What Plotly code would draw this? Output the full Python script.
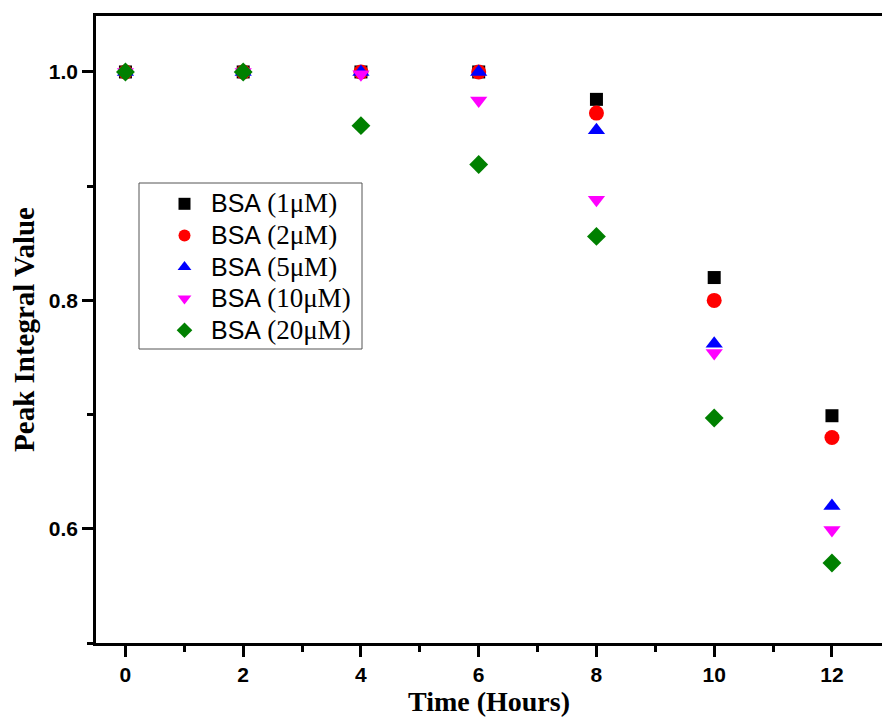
import plotly.graph_objects as go

time_hours = [0, 2, 4, 6, 8, 10, 12]
series_names = ["1", "2", "5", "10", "20"]
bsa_1 = [1.0, 1.0, 1.0, 1.0, 0.976, 0.820, 0.699]
bsa_2 = [1.0, 1.0, 1.0, 1.0, 0.964, 0.800, 0.680]
bsa_5 = [1.0, 1.0, 1.0, 1.0, 0.949, 0.762, 0.620]
bsa_10 = [1.0, 1.0, 0.998, 0.975, 0.888, 0.754, 0.599]
bsa_20 = [1.0, 1.0, 0.953, 0.919, 0.856, 0.697, 0.570]

x_ticks = [0, 2, 4, 6, 8, 10, 12]
y_ticks = [0.6, 0.8, 1.0]
y_tick_labels = ["0.6", "0.8", "1.0"]

values = [bsa_1, bsa_2, bsa_5, bsa_10, bsa_20]
colors = ["#000000", "#ff0000", "#0000ff", "#ff00ff", "#008000"]
symbols = ["square", "circle", "triangle-up", "triangle-down", "diamond"]
sizes = [13, 15, 15, 15, 14.5]

fig = go.Figure()
for name, vals, c, s, sz in zip(series_names, values, colors, symbols, sizes):
    label = ("<span style='font-size:25px'>BSA</span> "
             "<span style='font-family:Liberation Serif, Times New Roman;font-size:27px'>("
             + name + "\u03bcM)</span>")
    fig.add_trace(go.Scatter(
        x=time_hours, y=vals, mode="markers", name=label,
        marker=dict(color=c, symbol=s, size=sz, line=dict(width=0)),
    ))

L, T, B, W, H = 96, 16, 77, 882, 720
pw, ph = W - L, H - T - B

def px_x(p):
    return (p - L) / pw

def px_y(p):
    return (H - B - p) / ph

# legend frame
fig.add_shape(type="rect", xref="paper", yref="paper",
              x0=px_x(139), x1=px_x(362), y0=px_y(349), y1=px_y(183),
              line=dict(color="#555555", width=1), fillcolor="white", layer="below")

tickfont = dict(family="Liberation Sans, Arial", size=21, color="black", weight="bold")

fig.update_layout(
    width=W, height=H,
    margin=dict(l=L, r=0, t=T, b=B),
    plot_bgcolor="rgba(0,0,0,0)", paper_bgcolor="white",
    showlegend=True,
    legend=dict(
        x=px_x(158), y=px_y(183), xanchor="left", yanchor="top",
        bgcolor="rgba(0,0,0,0)", borderwidth=0,
        font=dict(family="Liberation Sans, Arial", size=22, color="black"),
        itemsizing="constant", tracegroupgap=0, itemwidth=43,
    ),
    xaxis=dict(
        range=[-0.5, 12.85],
        tickvals=x_ticks,
        ticktext=[str(v) for v in x_ticks],
        ticks="outside", ticklen=11, tickwidth=2.5, tickcolor="black",
        minor=dict(tickvals=[1, 3, 5, 7, 9, 11], ticks="outside", ticklen=6, tickwidth=2.5, tickcolor="black"),
        showline=True, linewidth=2.5, linecolor="black", mirror=True,
        showgrid=False, zeroline=False,
        tickfont=tickfont,
        title=dict(text="<b>Time (Hours)</b>", standoff=6,
                   font=dict(family="Liberation Serif, Times New Roman", size=28, color="black")),
    ),
    yaxis=dict(
        range=[0.5, 1.049],
        tickvals=y_ticks,
        ticktext=y_tick_labels,
        ticks="outside", ticklen=11, tickwidth=2.5, tickcolor="black",
        minor=dict(tickvals=[0.5, 0.7, 0.9], ticks="outside", ticklen=6, tickwidth=2.5, tickcolor="black"),
        showline=True, linewidth=2.5, linecolor="black", mirror=False,
        showgrid=False, zeroline=False,
        tickfont=tickfont,
        title=dict(text="<b>Peak Integral Value</b>", standoff=6,
                   font=dict(family="Liberation Serif, Times New Roman", size=29, color="black")),
    ),
)

fig.write_html("out.html")
